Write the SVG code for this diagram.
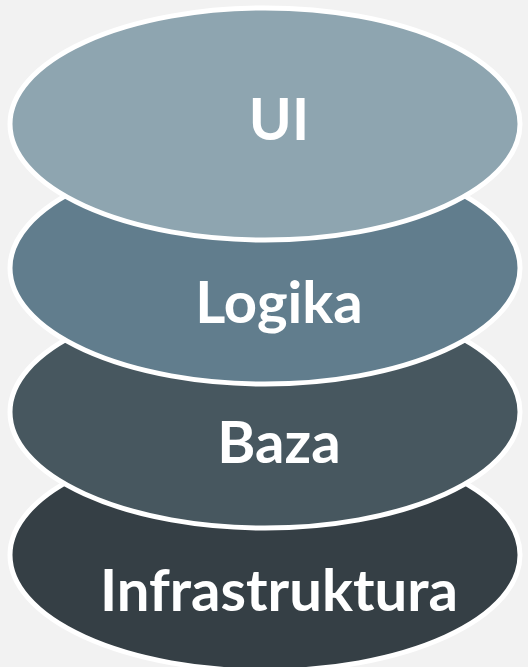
<svg xmlns="http://www.w3.org/2000/svg" width="528" height="667" viewBox="0 0 528 667">
  <style>
    .layer { stroke: #ffffff; stroke-width: 5; }
    .label { fill: #ffffff; font-family: Lato, "Open Sans", sans-serif; font-weight: bold; font-size: 58px; text-anchor: middle; }
  </style>
  <rect width="528" height="667" fill="#f2f2f2"/>
  <!-- stack drawn bottom-up so each upper layer overlaps the one below -->
  <g id="infrastruktura">
    <ellipse class="layer" cx="265" cy="555" rx="255" ry="116" fill="#353f45"/>
    <text class="label" x="279" y="611">Infrastruktura</text>
  </g>
  <g id="baza">
    <ellipse class="layer" cx="265" cy="412" rx="255" ry="116" fill="#47575f"/>
    <text class="label" x="279" y="463">Baza</text>
  </g>
  <g id="logika">
    <ellipse class="layer" cx="265" cy="268" rx="255" ry="116" fill="#617d8d"/>
    <text class="label" x="279" y="323">Logika</text>
  </g>
  <g id="ui">
    <ellipse class="layer" cx="265" cy="124" rx="255" ry="116" fill="#8ea5b0"/>
    <text class="label" x="279" y="140">UI</text>
  </g>
  <g id="connectors"/>
</svg>
